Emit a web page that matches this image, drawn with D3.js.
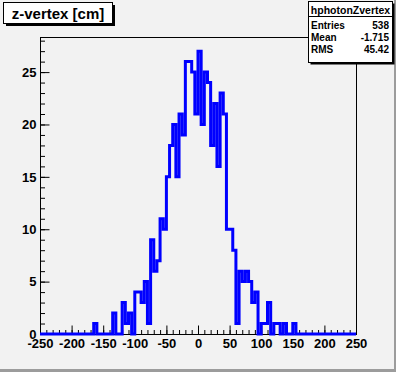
<!DOCTYPE html>
<html>
<head>
<meta charset="utf-8">
<script src="https://cdn.jsdelivr.net/npm/d3@7"></script>
<style>
  body { margin: 0; background: #f2f2f2; }
  svg { display: block; }
  text { font-family: "Liberation Sans", Arial, sans-serif; font-weight: bold; }
</style>
</head>
<body>
<div id="root"></div>
<script>
// histogram: 100 bins of 5 cm from -250 to 250, only the filled part listed
const binWidth = 5;
const binStart = -165;
const counts = [
  1, 0, 0, 0, 0, 0, 2, 0, 0, 3, 1, 2, 0,        // -165 .. -105
  4, 4, 3, 5, 1, 9, 6, 7, 11, 10,              // -100 .. -55
  15, 18, 20, 15, 21, 19, 26, 26, 25, 21,      // -50 .. -5
  27, 20, 25, 24, 18, 22, 16, 23, 21, 10,      // 0 .. 45
  10, 8, 1, 6, 5, 6, 5, 3, 4, 0,               // 50 .. 95
  1, 1, 3, 0, 1, 1, 0, 1, 0, 0, 1              // 100 .. 150
];
const xTicks = [-250, -200, -150, -100, -50, 0, 50, 100, 150, 200, 250];
const yTicks = [0, 5, 10, 15, 20, 25];
const histTitle = "z-vertex [cm]";
const statsName = "hphotonZvertex";
const statsLabels = ["Entries", "Mean", "RMS"];
const statsValues = ["538", "-1.715", "45.42"];

const width = 396, height = 372;
const frame = { left: 40, right: 356, top: 37, bottom: 334 };

const svg = d3.select("#root").append("svg")
  .attr("width", width)
  .attr("height", height);

// canvas
svg.append("rect").attr("width", width).attr("height", height).attr("fill", "#f2f2f2");
svg.append("rect").attr("x", width - 2).attr("y", 0).attr("width", 2).attr("height", height).attr("fill", "#9c9c9c");
svg.append("rect").attr("x", 0).attr("y", height - 3).attr("width", width).attr("height", 3).attr("fill", "#9c9c9c");

const x = d3.scaleLinear().domain([-250, 250]).range([frame.left, frame.right]);
const y = d3.scaleLinear().domain([0, 28.35]).range([frame.bottom, frame.top]);

// frame
svg.append("rect")
  .attr("x", frame.left + 0.5).attr("y", frame.top + 0.5)
  .attr("width", frame.right - frame.left).attr("height", frame.bottom - frame.top)
  .attr("fill", "#f2f2f2").attr("stroke", "#000").attr("stroke-width", 1);

// minor ticks
svg.append("g")
  .attr("transform", `translate(0,${frame.bottom + 0.5})`)
  .call(d3.axisBottom(x).tickValues(d3.range(-250, 251, 10)).tickSize(-4.5).tickFormat(""))
  .call(g => g.select(".domain").remove());
svg.append("g")
  .attr("transform", `translate(${frame.left + 0.5},0)`)
  .call(d3.axisLeft(y).tickValues(d3.range(0, 29, 1)).tickSize(-4.5).tickFormat(""))
  .call(g => g.select(".domain").remove());

// major ticks + labels
const xAxis = svg.append("g")
  .attr("transform", `translate(0,${frame.bottom + 0.5})`)
  .call(d3.axisBottom(x).tickValues(xTicks).tickSizeInner(-9).tickSizeOuter(0).tickPadding(4).tickFormat(d => String(d)))
  .call(g => g.select(".domain").remove());
xAxis.selectAll("text").attr("font-size", 13).attr("fill", "#000")
  .attr("font-family", "Liberation Sans, Arial, sans-serif").attr("font-weight", "bold");

const yAxis = svg.append("g")
  .attr("transform", `translate(${frame.left + 0.5},0)`)
  .call(d3.axisLeft(y).tickValues(yTicks).tickSizeInner(-9).tickSizeOuter(0).tickPadding(4).tickFormat(d => String(d)))
  .call(g => g.select(".domain").remove());
yAxis.selectAll("text").attr("font-size", 13).attr("fill", "#000")
  .attr("font-family", "Liberation Sans, Arial, sans-serif").attr("font-weight", "bold");

// histogram outline (empty bins sit on the zero line)
const binEnd = binStart + counts.length * binWidth;
const pts = [[x(-250), y(0)], [x(binStart), y(0)]];
counts.forEach((c, i) => {
  const lo = binStart + i * binWidth;
  pts.push([x(lo), y(c)], [x(lo + binWidth), y(c)]);
});
pts.push([x(binEnd), y(0)], [x(250), y(0)]);

svg.append("path")
  .attr("d", d3.line()(pts))
  .attr("fill", "none")
  .attr("stroke", "#0000ff")
  .attr("stroke-width", 3)
  .attr("stroke-linejoin", "miter");

// title box
svg.append("rect").attr("x", 6).attr("y", 5).attr("width", 109).attr("height", 21).attr("fill", "#000");
svg.append("rect").attr("x", 3.5).attr("y", 2.5).attr("width", 109).attr("height", 21)
  .attr("fill", "#fff").attr("stroke", "#000");
svg.append("text").attr("x", 58).attr("y", 18.5).attr("text-anchor", "middle")
  .attr("font-size", 15).text(histTitle);

// stats box
const sb = { x: 308.5, y: 1.5, w: 84, h: 61 };
svg.append("rect").attr("x", sb.x + 2).attr("y", sb.y + 2).attr("width", sb.w).attr("height", sb.h).attr("fill", "#000");
svg.append("rect").attr("x", sb.x).attr("y", sb.y).attr("width", sb.w).attr("height", sb.h)
  .attr("fill", "#fff").attr("stroke", "#000");
svg.append("line").attr("x1", sb.x).attr("x2", sb.x + sb.w).attr("y1", 16.5).attr("y2", 16.5).attr("stroke", "#000");
svg.append("text").attr("x", sb.x + sb.w / 2).attr("y", 13.5).attr("text-anchor", "middle")
  .attr("font-size", 10.5).text(statsName);
statsLabels.forEach((lab, i) => {
  const yy = 28.5 + i * 12.4;
  svg.append("text").attr("x", sb.x + 2.5).attr("y", yy).attr("font-size", 10).text(lab);
  svg.append("text").attr("x", sb.x + sb.w - 3.5).attr("y", yy).attr("text-anchor", "end")
    .attr("font-size", 10).text(statsValues[i]);
});
</script>
</body>
</html>
